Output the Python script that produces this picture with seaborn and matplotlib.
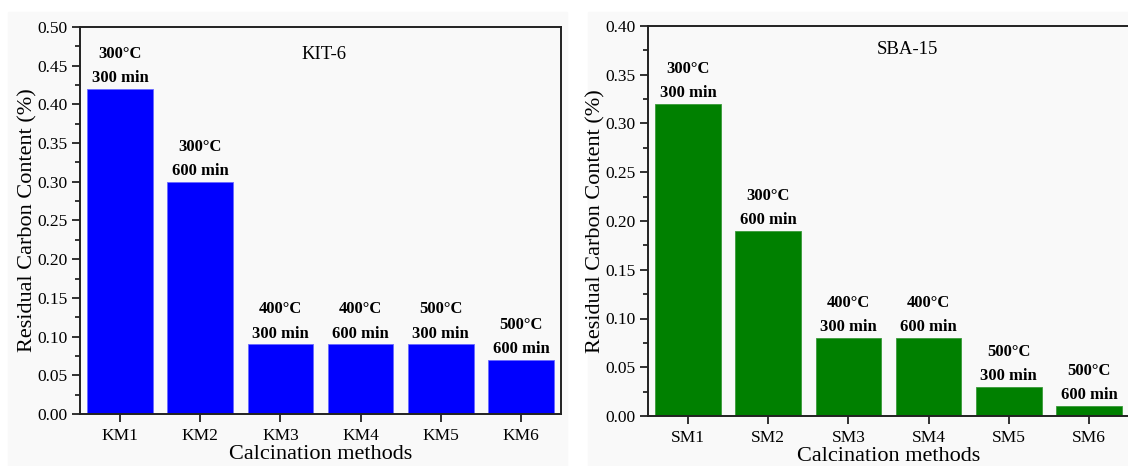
# residual carbon content: KIT-6 vs SBA-15, bar per calcination method
import matplotlib

matplotlib.use("Agg")
import matplotlib.pyplot as plt
import seaborn as sns
from matplotlib.patches import Rectangle
from matplotlib.ticker import MultipleLocator

# dedomena (diavasmena apo to figure)
kit_methods = ["KM1", "KM2", "KM3", "KM4", "KM5", "KM6"]
kit_values = [0.42, 0.30, 0.09, 0.09, 0.09, 0.07]
sba_methods = ["SM1", "SM2", "SM3", "SM4", "SM5", "SM6"]
sba_values = [0.32, 0.19, 0.08, 0.08, 0.03, 0.01]
temps = ["300°C", "300°C", "400°C", "400°C", "500°C", "500°C"]
times = ["300 min", "600 min", "300 min", "600 min", "300 min", "600 min"]

BG = "#f9f9f9"

sns.set_theme(style="ticks")
plt.rcParams["font.family"] = ["Liberation Serif", "DejaVu Serif"]
plt.rcParams.update({"text.color": "black", "axes.labelcolor": "black",
                     "xtick.color": "black", "ytick.color": "black"})

fig = plt.figure(figsize=(11.28, 4.66), dpi=100)
fig.patch.set_facecolor("white")
# gkri fonta gia kathe panel (piso apo ta axes)
fig.patches.append(Rectangle((8 / 1128, 0), 559 / 1128, 454 / 466,
                             transform=fig.transFigure, color=BG, zorder=-10))
fig.patches.append(Rectangle((588 / 1128, 0), 540 / 1128, 454 / 466,
                             transform=fig.transFigure, color=BG, zorder=-10))

ax1 = fig.add_axes([80 / 1128, 1 - 414 / 466, 481 / 1128, 387 / 466])
ax2 = fig.add_axes([648 / 1128, 1 - 416 / 466, 481 / 1128, 390 / 466])


def panel(ax, methods, values, color, edge, ymax, title, title_xy):
    sns.barplot(x=methods, y=values, color=color, saturation=1, width=0.82,
                edgecolor=edge, linewidth=0.6, ax=ax)
    ax.set_facecolor(BG)
    ax.set_xlim(-0.5, 5.5)
    ax.set_ylim(0, ymax)
    ax.yaxis.set_major_locator(MultipleLocator(0.05))
    ax.yaxis.set_minor_locator(MultipleLocator(0.025))
    ax.yaxis.set_major_formatter(matplotlib.ticker.FormatStrFormatter("%.2f"))
    for s in ax.spines.values():
        s.set_visible(True)
        s.set_linewidth(1.4)
        s.set_color("#222222")
    ax.tick_params(axis="both", which="major", direction="out", length=6,
                   width=1.3, labelsize=12.5, color="#222222", pad=3)
    ax.tick_params(axis="x", which="major", pad=4)
    ax.tick_params(axis="y", which="minor", direction="out", length=3.5, width=1.1)
    ax.tick_params(axis="x", which="minor", bottom=False)
    ax.set_ylabel("Residual Carbon Content (%)", fontsize=16, labelpad=0)
    ax.set_xlabel("Calcination methods", fontsize=16, labelpad=1)
    # etiketes panw apo tis bares
    for i, v in enumerate(values):
        ax.annotate(f"{temps[i]}\n{times[i]}", (i, v), xytext=(0, 2),
                    textcoords="offset points", ha="center", va="bottom",
                    fontsize=12, fontweight="bold", linespacing=1.7)
    ax.text(title_xy[0], title_xy[1], title, transform=ax.transAxes,
            ha="center", va="center", fontsize=13.5)


panel(ax1, kit_methods, kit_values, "#0000ff", "#6a6aff", 0.50, "KIT-6", (0.507, 0.93))
panel(ax2, sba_methods, sba_values, "#008000", "#3a9a3a", 0.40, "SBA-15", (0.54, 0.94))

fig.savefig("out.png", dpi=100, facecolor="white")
